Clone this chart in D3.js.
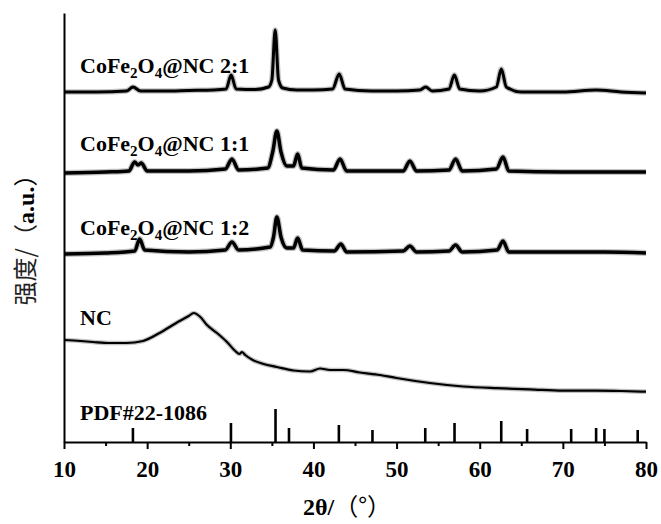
<!DOCTYPE html>
<html>
  <head>
    <meta charset="utf-8">
    <title>XRD patterns</title>
    <script src="https://d3js.org/d3.v7.min.js"></script>
    <style>
      body { margin: 0; background: #fff; }
    </style>
  </head>
  <body>
    <svg width="661" height="524"></svg>

    <script>
      // 2θ ticks
      var majorTicks = [10, 20, 30, 40, 50, 60, 70, 80];
      var minorTicks = [15, 25, 35, 45, 55, 65, 75];

      // CoFe2O4@NC 2:1
      var x21 = [10, 14, 17.5, 18.3, 19.2, 22, 25, 28, 29.5, 30.1, 30.7, 33, 34.6, 35.0, 35.4, 35.8, 36.3, 38, 40, 42.3, 43.1, 43.8, 47, 50, 52.8, 53.5, 54.3, 56.3, 56.95, 57.6, 60, 62.0, 62.6, 63.2, 65, 70, 74, 77, 80];
      var y21 = [350, 350, 351, 355, 351, 351, 351.5, 352, 353, 367, 353, 352.5, 355, 362, 412, 362, 354, 352, 352, 353, 368, 353, 351, 351, 352, 355, 351, 353, 367, 353, 351, 355, 373, 355, 350, 350, 352, 350, 349];

      // CoFe2O4@NC 1:1
      var x11 = [10, 15, 17.8, 18.5, 18.9, 19.3, 20, 25, 29.4, 30.2, 31, 34.5, 35.1, 35.6, 36.1, 36.8, 37.6, 38.1, 38.6, 42.4, 43.2, 44, 50.8, 51.6, 52.4, 56.3, 57.1, 57.9, 62.0, 62.8, 63.5, 70, 75, 80];
      var y11 = [269, 270, 271, 280, 277, 279, 271, 271, 273, 283, 272, 274, 290, 311, 290, 276, 276, 288, 274, 272, 283, 271, 271, 281, 271, 272, 283, 271, 273, 285, 271, 270, 270, 270];

      // CoFe2O4@NC 1:2
      var x12 = [10, 15, 18.5, 19.1, 19.7, 25, 29.4, 30.2, 31, 34.8, 35.2, 35.6, 36.1, 36.8, 37.6, 38.1, 38.7, 42.5, 43.3, 44, 50.8, 51.6, 52.4, 56.3, 57.1, 57.9, 62.1, 62.8, 63.5, 70, 75, 80];
      var y12 = [188, 189, 191, 203, 192, 190, 192, 200, 192, 195, 205, 225, 205, 194, 194, 204, 192, 191, 198, 190, 191, 196, 190, 191, 197, 190, 192, 201, 190, 190, 190, 189];

      // NC
      var xNC = [10, 12, 13.5, 15.5, 17.5, 19.5, 21.5, 23.5, 25, 25.6, 26.4, 27.2, 28.4, 29.6, 30.6, 31.1, 31.4, 31.8, 32.7, 34, 35.6, 37.6, 39.6, 40.8, 42, 43.6, 45.6, 48, 50, 54, 58, 62, 66, 70, 74, 77, 80];
      var yNC = [102, 101, 100, 99, 99, 101, 109, 119, 126, 129, 125, 117, 109, 100, 91, 88, 90, 87, 82, 78, 75, 71.5, 70.5, 73.5, 72, 72, 69.5, 67, 64, 59, 55.5, 53.8, 52.7, 51.3, 51.3, 51, 50.3];

      // PDF#22-1086 reference lines
      var pdfPos = [18.29, 30.08, 35.44, 37.06, 43.06, 47.1, 53.45, 56.97, 62.59, 65.7, 71.0, 74.0, 75.0, 79.0];
      var pdfInt = [14, 19, 33, 14, 17, 12, 14, 19, 21, 13, 13, 14, 13, 12];

      var labelNames = ["CoFe2O4@NC 2:1", "CoFe2O4@NC 1:1", "CoFe2O4@NC 1:2", "NC", "PDF#22-1086"];

      var svg = d3.select("svg");
      var mLeft = 64, mRight = 646, mTop = 13, mBottom = 442;

      var xScale = d3.scaleLinear().domain([10, 80]).range([mLeft, mRight]);
      var yScale = d3.scaleLinear().domain([0, mBottom - mTop]).range([mBottom, mTop]);

      var line = d3.line()
        .x(function(d) { return xScale(d[0]); })
        .y(function(d) { return yScale(d[1]); })
        .curve(d3.curveMonotoneX);

      function drawTrace(xs, ys, w) {
        var pts = xs.map(function(v, i) { return [v, ys[i]]; });
        // soft halo + dense core, like the noisy band of the scan
        svg.append("path").datum(pts)
          .attr("d", line)
          .attr("fill", "none")
          .attr("stroke", "#777")
          .attr("stroke-opacity", 0.45)
          .attr("stroke-width", w + 2.5)
          .attr("stroke-linejoin", "round");
        svg.append("path").datum(pts)
          .attr("d", line)
          .attr("fill", "none")
          .attr("stroke", "#000")
          .attr("stroke-width", w)
          .attr("stroke-linejoin", "round");
      }

      drawTrace(x21, y21, 3);
      drawTrace(x11, y11, 3.5);
      drawTrace(x12, y12, 3.5);
      drawTrace(xNC, yNC, 2.2);

      // sticks
      svg.append("g").selectAll("line")
        .data(pdfPos)
        .join("line")
        .attr("x1", function(d) { return xScale(d); })
        .attr("x2", function(d) { return xScale(d); })
        .attr("y1", yScale(0))
        .attr("y2", function(d, i) { return yScale(pdfInt[i]); })
        .attr("stroke", "#000")
        .attr("stroke-width", 2.6);

      // x axis
      var xAxis = d3.axisBottom(xScale).tickValues(majorTicks).tickSize(7).tickSizeOuter(0);
      var gx = svg.append("g")
        .attr("transform", "translate(0," + mBottom + ")")
        .call(xAxis);
      gx.select(".domain").attr("stroke-width", 2);
      gx.selectAll(".tick line").attr("stroke-width", 2);
      gx.selectAll(".tick text")
        .attr("y", 35)
        .attr("dy", null)
        .attr("fill", "#000")
        .style("font-family", "'Liberation Serif', 'Times New Roman', serif")
        .style("font-weight", "bold")
        .style("font-size", "23px");

      var gm = svg.append("g")
        .attr("transform", "translate(0," + mBottom + ")")
        .call(d3.axisBottom(xScale).tickValues(minorTicks).tickSize(4).tickSizeOuter(0).tickFormat(""));
      gm.select(".domain").remove();
      gm.selectAll(".tick line").attr("stroke-width", 2);

      // y axis (no ticks)
      var gy = svg.append("g")
        .attr("transform", "translate(" + mLeft + ",0)")
        .call(d3.axisLeft(yScale).tickValues([]).tickSizeOuter(0));
      gy.select(".domain").attr("stroke-width", 2);

      // sample labels
      var labelY = [73, 151, 235, 325, 420];
      labelNames.forEach(function(name, i) {
        var t = svg.append("text")
          .attr("x", 80)
          .attr("y", labelY[i])
          .style("font-family", "'Liberation Serif', 'Times New Roman', serif")
          .style("font-weight", "bold")
          .style("font-size", "22px");
        var m = name.match(/^CoFe(\d)O(\d)(.*)$/);
        if (m) {
          t.append("tspan").text("CoFe");
          t.append("tspan").attr("dy", 5).style("font-size", "15px").text(m[1]);
          t.append("tspan").attr("dy", -5).text("O");
          t.append("tspan").attr("dy", 5).style("font-size", "15px").text(m[2]);
          t.append("tspan").attr("dy", -5).text(m[3]);
        } else {
          t.text(name);
        }
      });

      // x title
      var xt = svg.append("text")
        .attr("x", 303)
        .attr("y", 515)
        .style("font-size", "24px");
      xt.append("tspan")
        .style("font-family", "'Liberation Serif', serif")
        .style("font-weight", "bold")
        .text("2θ/");
      xt.append("tspan")
        .style("font-family", "'Noto Sans CJK SC', sans-serif")
        .text("（°）");

      // y title
      var yt = svg.append("text")
        .attr("transform", "translate(34,234) rotate(-90)")
        .attr("text-anchor", "middle")
        .style("font-size", "24px");
      yt.append("tspan")
        .style("font-family", "'Noto Sans CJK SC', sans-serif")
        .attr("fill", "#222")
        .text("强度/（");
      yt.append("tspan")
        .style("font-family", "'Liberation Serif', serif")
        .style("font-weight", "bold")
        .text("a.u.");
      yt.append("tspan")
        .style("font-family", "'Noto Sans CJK SC', sans-serif")
        .text("）");
    </script>
  </body>
</html>
